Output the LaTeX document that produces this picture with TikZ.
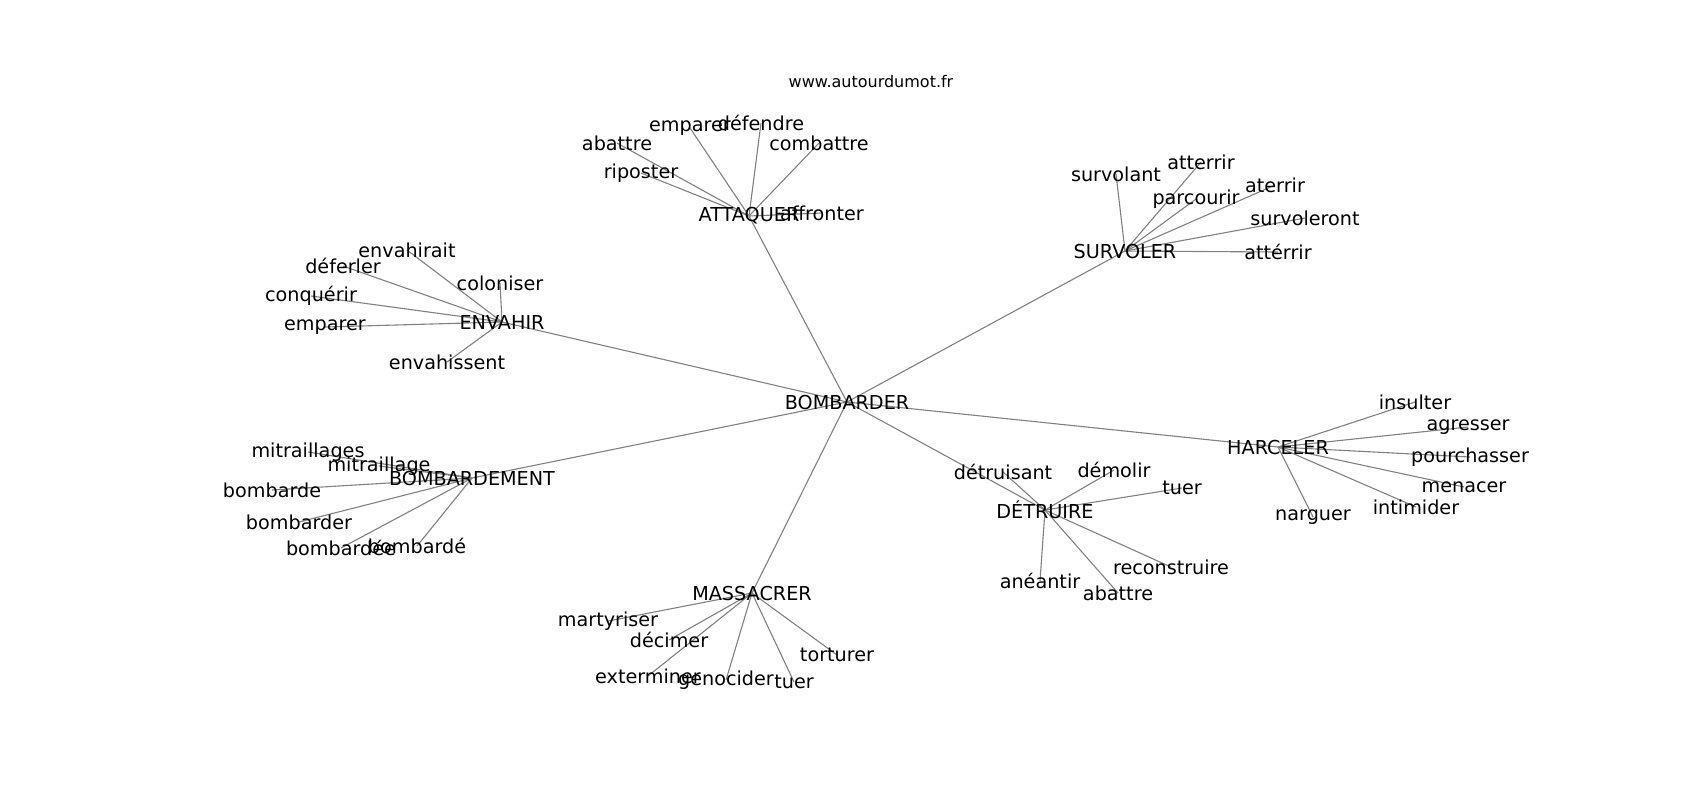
\documentclass[tikz,border=0pt]{standalone}
\usepackage{fontspec}
\setmainfont{DejaVu Sans}
\usepackage{tikz}
\usetikzlibrary{backgrounds}

\begin{document}
\begin{tikzpicture}[x=0.5pt, y=-0.5pt,
    word/.style = {inner sep=0pt, font=\fontsize{9.6}{11}\selectfont},
    edge/.style = {draw=black!50, line width=0.55pt}]
    \useasboundingbox (0,0) rectangle (1700,800);
    \node at (871,82) [inner sep=0pt, font=\fontsize{8}{10}\selectfont] (51) {www.autourdumot.fr};
    % hubs
    \node at (847,402) [word] (1) {BOMBARDER};
    \node at (749,216) [word] (2) {ATTAQUER};
    \node at (1125,251) [word] (3) {SURVOLER};
    \node at (502,322) [word] (4) {ENVAHIR};
    \node at (472,478) [word] (5) {BOMBARDEMENT};
    \node at (752,593) [word] (6) {MASSACRER};
    \node at (1045,510) [word] (7) {DÉTRUIRE};
    \node at (1278,447) [word] (8) {HARCELER};
    % attaquer
    \node at (617,143) [word] (9) {abattre};
    \node at (641,173) [word] (10) {riposter};
    \node at (690,128) [word] (11) {emparer};
    \node at (761,123) [word] (12) {défendre};
    \node at (819,143) [word] (13) {combattre};
    \node at (822,213) [word] (14) {affronter};
    % survoler
    \node at (1116,174) [word] (15) {survolant};
    \node at (1201,162) [word] (16) {atterrir};
    \node at (1196,199) [word] (17) {parcourir};
    \node at (1275,185) [word] (18) {aterrir};
    \node at (1305,218) [word] (19) {survoleront};
    \node at (1278,252) [word] (20) {attérrir};
    % envahir
    \node at (407,250) [word] (21) {envahirait};
    \node at (343,266) [word] (22) {déferler};
    \node at (311,296) [word] (23) {conquérir};
    \node at (500,283) [word] (24) {coloniser};
    \node at (325,327) [word] (25) {emparer};
    \node at (447,362) [word] (26) {envahissent};
    % bombardement
    \node at (308,452) [word] (27) {mitraillages};
    \node at (379,466) [word] (28) {mitraillage};
    \node at (272,490) [word] (29) {bombarde};
    \node at (299,522) [word] (30) {bombarder};
    \node at (341,548) [word] (31) {bombardée};
    \node at (417,546) [word] (32) {bombardé};
    % massacrer
    \node at (608,621) [word] (33) {martyriser};
    \node at (669,640) [word] (34) {décimer};
    \node at (648,676) [word] (35) {exterminer};
    \node at (726,680) [word] (36) {genocider};
    \node at (794,682) [word] (37) {tuer};
    \node at (837,655) [word] (38) {torturer};
    % detruire
    \node at (1003,472) [word] (39) {détruisant};
    \node at (1114,470) [word] (40) {démolir};
    \node at (1182,488) [word] (41) {tuer};
    \node at (1040,581) [word] (42) {anéantir};
    \node at (1118,593) [word] (43) {abattre};
    \node at (1171,567) [word] (44) {reconstruire};
    % harceler
    \node at (1415,402) [word] (45) {insulter};
    \node at (1468,427) [word] (46) {agresser};
    \node at (1470,457) [word] (47) {pourchasser};
    \node at (1464,487) [word] (48) {menacer};
    \node at (1416,507) [word] (49) {intimider};
    \node at (1313,517) [word] (50) {narguer};
    \begin{scope}[on background layer]
    \draw[edge] (1.center) -- (2.center);
    \draw[edge] (1.center) -- (3.center);
    \draw[edge] (1.center) -- (4.center);
    \draw[edge] (1.center) -- (5.center);
    \draw[edge] (1.center) -- (6.center);
    \draw[edge] (1.center) -- (7.center);
    \draw[edge] (1.center) -- (8.center);
    \draw[edge] (2.center) -- (9.center);
    \draw[edge] (2.center) -- (10.center);
    \draw[edge] (2.center) -- (11.center);
    \draw[edge] (2.center) -- (12.center);
    \draw[edge] (2.center) -- (13.center);
    \draw[edge] (2.center) -- (14.center);
    \draw[edge] (3.center) -- (15.center);
    \draw[edge] (3.center) -- (16.center);
    \draw[edge] (3.center) -- (17.center);
    \draw[edge] (3.center) -- (18.center);
    \draw[edge] (3.center) -- (19.center);
    \draw[edge] (3.center) -- (20.center);
    \draw[edge] (4.center) -- (21.center);
    \draw[edge] (4.center) -- (22.center);
    \draw[edge] (4.center) -- (23.center);
    \draw[edge] (4.center) -- (24.center);
    \draw[edge] (4.center) -- (25.center);
    \draw[edge] (4.center) -- (26.center);
    \draw[edge] (5.center) -- (27.center);
    \draw[edge] (5.center) -- (28.center);
    \draw[edge] (5.center) -- (29.center);
    \draw[edge] (5.center) -- (30.center);
    \draw[edge] (5.center) -- (31.center);
    \draw[edge] (5.center) -- (32.center);
    \draw[edge] (6.center) -- (33.center);
    \draw[edge] (6.center) -- (34.center);
    \draw[edge] (6.center) -- (35.center);
    \draw[edge] (6.center) -- (36.center);
    \draw[edge] (6.center) -- (37.center);
    \draw[edge] (6.center) -- (38.center);
    \draw[edge] (7.center) -- (39.center);
    \draw[edge] (7.center) -- (40.center);
    \draw[edge] (7.center) -- (41.center);
    \draw[edge] (7.center) -- (42.center);
    \draw[edge] (7.center) -- (43.center);
    \draw[edge] (7.center) -- (44.center);
    \draw[edge] (8.center) -- (45.center);
    \draw[edge] (8.center) -- (46.center);
    \draw[edge] (8.center) -- (47.center);
    \draw[edge] (8.center) -- (48.center);
    \draw[edge] (8.center) -- (49.center);
    \draw[edge] (8.center) -- (50.center);
    \end{scope}
\end{tikzpicture}
\end{document}
